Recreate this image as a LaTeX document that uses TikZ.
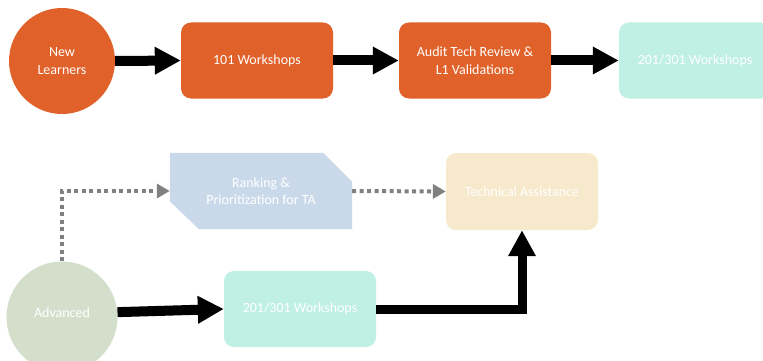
\documentclass[tikz,border=0pt]{standalone}
\usepackage{fontspec}
\setmainfont{Carlito}
\usetikzlibrary{arrows.meta}

\definecolor{burnt}{HTML}{E0622A}
\definecolor{mint}{HTML}{BFF0E3}
\definecolor{paleblue}{HTML}{C9D9EA}
\definecolor{sand}{HTML}{F7E9CC}
\definecolor{sage}{HTML}{D3DFCB}
\definecolor{dotgray}{HTML}{808080}

\tikzset{
  every node/.style={font=\fontsize{14}{17.5}\selectfont, text=white, align=center},
  roundbox/.style={rectangle, rounded corners=10pt, minimum width=152pt, minimum height=76pt, inner sep=2pt},
  bubble/.style={circle, inner sep=0pt},
  bigarrow/.style={line width=10pt, line join=miter, -{Triangle[length=26pt,width=26pt]}},
  dotarrow/.style={dotgray, line width=4pt, dash pattern=on 4pt off 3.5pt, -{Triangle[length=13pt,width=14pt]}},
}

\begin{document}
\begin{tikzpicture}[x=1pt, y=-1pt]
  \useasboundingbox (0,0) rectangle (763,361);

  % top row: new learners path
  \node[bubble, fill=burnt, minimum size=106pt] (learn) at (62,61) {New\\Learners};
  \node[roundbox, fill=burnt] (w101) at (257,60.5) {101 Workshops};
  \node[roundbox, fill=burnt] (audit) at (475,60.5) {Audit Tech Review \&\\L1 Validations};
  \node[roundbox, fill=mint] (w201a) at (695,60.5) {201/301 Workshops};

  \draw[bigarrow] (learn.east) -- (w101.west);
  \draw[bigarrow] (w101.east) -- (audit.west);
  \draw[bigarrow] (audit.east) -- (w201a.west);

  % lower part: advanced path
  \node[rectangle, minimum width=182pt, minimum height=76pt, inner sep=0pt] (rank) at (261,191) {};
  \node[roundbox, fill=sand, minimum height=77pt] (ta) at (522,191.5) {Technical Assistance};
  \node[bubble, fill=sage, minimum size=111pt, text depth=8pt] (adv) at (62,317) {Advanced};
  \node[roundbox, fill=mint] (w201b) at (300,309) {201/301 Workshops};

  % cut-corner card behind the ranking text
  \fill[paleblue] (rank.north west) -- ([xshift=-29pt]rank.north east)
    -- ([yshift=-29pt]rank.north east) -- (rank.south east)
    -- ([xshift=29pt]rank.south west) -- ([yshift=28pt]rank.south west) -- cycle;
  \node (ranktext) at (rank.center) {Ranking \&\\Prioritization for TA};

  \draw[dotarrow] (adv.north) |- (rank.west);
  \draw[dotarrow] (rank.east) -- (ta.west);

  \draw[bigarrow] (adv.5) -- (w201b.west);
  \draw[bigarrow, line width=9pt] (w201b.east) -| (ta.south);
\end{tikzpicture}
\end{document}
